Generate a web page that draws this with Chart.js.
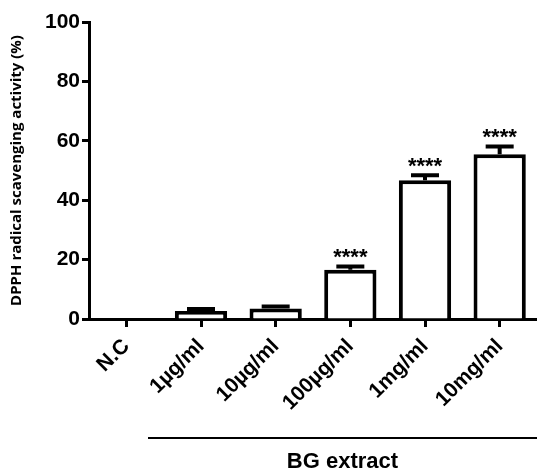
<!DOCTYPE html>
<html>
<head>
<meta charset="utf-8">
<script src="https://cdn.jsdelivr.net/npm/chart.js@4.4.1/dist/chart.umd.min.js"></script>
<style>
  body { margin: 0; background: #fff; }
  canvas { display: block; }
</style>
</head>
<body>
<canvas id="plot" width="537" height="472"></canvas>
<script>
const categories = ["N.C", "1µg/ml", "10µg/ml", "100µg/ml", "1mg/ml", "10mg/ml"];
const activity = [0, 2.7, 3.5, 16.6, 46.7, 55.5];
const errors = [0, 0.7, 0.7, 1.1, 1.7, 2.6];
const stars = ["", "", "", "****", "****", "****"];
const yTicks = [0, 20, 40, 60, 80, 100];
const groupLabel = "BG extract";
const groupFrom = 1; // first category under the group line

const FONT = "'Liberation Sans', Arial, sans-serif";

// error bars (upper half only) + significance stars
const errorBarPlugin = {
  id: "errorBars",
  afterDatasetsDraw(chart) {
    const ctx = chart.ctx;
    const x = chart.scales.x;
    const y = chart.scales.y;
    ctx.save();
    ctx.strokeStyle = "#000";
    ctx.fillStyle = "#000";
    ctx.lineWidth = 4;
    activity.forEach((v, i) => {
      if (!errors[i]) return;
      const cx = x.getPixelForValue(i);
      const top = y.getPixelForValue(v + errors[i]);
      ctx.beginPath();
      ctx.moveTo(cx, y.getPixelForValue(v));
      ctx.lineTo(cx, top);
      ctx.moveTo(cx - 14, top);
      ctx.lineTo(cx + 14, top);
      ctx.stroke();
      if (stars[i]) {
        ctx.font = "bold 22px " + FONT;
        ctx.textAlign = "center";
        ctx.textBaseline = "alphabetic";
        ctx.fillText(stars[i], cx, top - 2);
      }
    });
    ctx.restore();
  },
};

// group bracket line and label below the category names
const groupPlugin = {
  id: "group",
  afterDraw(chart) {
    const ctx = chart.ctx;
    const x = chart.scales.x;
    const left = x.getPixelForValue(groupFrom) - 53;
    const right = chart.width;
    ctx.save();
    ctx.strokeStyle = "#000";
    ctx.lineWidth = 2;
    ctx.beginPath();
    ctx.moveTo(left, 438);
    ctx.lineTo(right, 438);
    ctx.stroke();
    ctx.fillStyle = "#000";
    ctx.font = "bold 22px " + FONT;
    ctx.textAlign = "center";
    ctx.textBaseline = "middle";
    ctx.fillText(groupLabel, (left + right) / 2, 462);
    ctx.restore();
  },
};

new Chart(document.getElementById("plot"), {
  type: "bar",
  data: {
    labels: categories,
    datasets: [
      {
        data: activity,
        backgroundColor: "#fff",
        borderColor: "#000",
        borderWidth: 4,
        borderSkipped: "bottom",
        barPercentage: 0.7,
        categoryPercentage: 1,
      },
    ],
  },
  options: {
    responsive: false,
    animation: false,
    layout: { padding: { top: 22, right: 0, left: 0, bottom: 0 } },
    plugins: {
      legend: { display: false },
      tooltip: { enabled: false },
    },
    scales: {
      x: {
        afterFit: (s) => { s.height = 153; },
        grid: {
          display: true,
          offset: false,
          drawOnChartArea: false,
          drawTicks: true,
          tickLength: 8,
          tickWidth: 3,
          tickColor: "#000",
        },
        border: { display: true, color: "#000", width: 3 },
        ticks: {
          color: "#000",
          font: { family: FONT, size: 21, weight: "bold" },
          minRotation: 45,
          maxRotation: 45,
          padding: 7,
        },
      },
      y: {
        min: 0,
        max: 100,
        afterFit: (s) => { s.width = 89; },
        afterBuildTicks: (s) => { s.ticks = yTicks.map((v) => ({ value: v })); },
        grid: {
          display: true,
          drawOnChartArea: false,
          drawTicks: true,
          tickLength: 7,
          tickWidth: 3,
          tickColor: "#000",
        },
        border: { display: true, color: "#000", width: 3 },
        ticks: {
          color: "#000",
          font: { family: FONT, size: 21, weight: "bold" },
          padding: 2,
        },
        title: {
          display: true,
          text: "DPPH radical scavenging activity (%)",
          color: "#000",
          font: { family: "'Open Sans', 'Noto Sans', sans-serif", size: 15, weight: "bold" },
          padding: { top: 8, bottom: 0 },
        },
      },
    },
  },
  plugins: [errorBarPlugin, groupPlugin],
});
</script>
</body>
</html>
